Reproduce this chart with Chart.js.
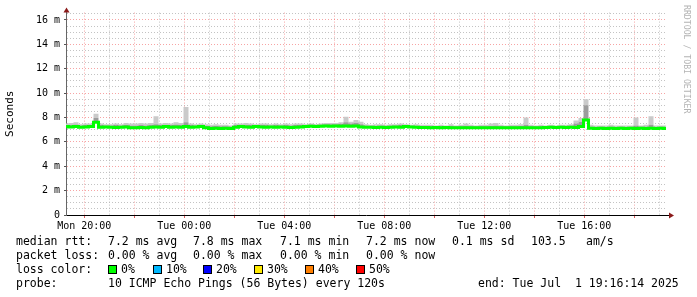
<!DOCTYPE html>
<html lang="en">
<head>
<meta charset="UTF-8">
<style>
    body { margin: 0; background: #ffffff; }
    .wrap { position: relative; width: 697px; height: 297px; font-family: "DejaVu Sans Mono", monospace; color: #000; overflow: hidden; }
    canvas { position: absolute; left: 0; top: 0; }
    .t { position: absolute; font-size: 11.5px; line-height: 14px; white-space: pre; }
    .box { position: absolute; width: 7px; height: 7px; border: 1px solid #000; }
    .mark { position: absolute; left: 682px; top: 5px; font-size: 8.2px; color: #b4b4b4; writing-mode: vertical-rl; white-space: pre; }
</style>
<script src="https://cdn.jsdelivr.net/npm/chart.js"></script>
</head>
<body>
<div class="wrap">
    <canvas id="pingChart" width="697" height="297"></canvas>
    <div class="mark">RRDTOOL / TOBI OETIKER</div>

    <div class="t" style="left:16px;top:234px">median rtt:</div>
    <div class="t" style="left:108px;top:234px">7.2 ms avg</div>
    <div class="t" style="left:193px;top:234px">7.8 ms max</div>
    <div class="t" style="left:280px;top:234px">7.1 ms min</div>
    <div class="t" style="left:366px;top:234px">7.2 ms now</div>
    <div class="t" style="left:452px;top:234px">0.1 ms sd</div>
    <div class="t" style="left:531px;top:234px">103.5</div>
    <div class="t" style="left:586px;top:234px">am/s</div>

    <div class="t" style="left:16px;top:248px">packet loss:</div>
    <div class="t" style="left:108px;top:248px">0.00 % avg</div>
    <div class="t" style="left:193px;top:248px">0.00 % max</div>
    <div class="t" style="left:280px;top:248px">0.00 % min</div>
    <div class="t" style="left:366px;top:248px">0.00 % now</div>

    <div class="t" style="left:16px;top:262px">loss color:</div>
    <div id="lossRow"></div>

    <div class="t" style="left:16px;top:276px">probe:</div>
    <div class="t" style="left:108px;top:276px">10 ICMP Echo Pings (56 Bytes) every 120s</div>
    <div class="t" style="left:478px;top:276px">end: Tue Jul  1 19:16:14 2025</div>
</div>

<script>
// one sample every 12 minutes, Mon 19:16 -> Tue 19:16
const stepHours = 0.2;
const firstTickHour = 0.7294; // Mon 20:00 relative to start
const tickLabels = ['Mon 20:00', 'Tue 00:00', 'Tue 04:00', 'Tue 08:00', 'Tue 12:00', 'Tue 16:00'];

const medianRtt = [
    7.25, 7.22, 7.25, 7.20, 7.22, 7.25, 7.60, 7.20, 7.22, 7.20,
    7.18, 7.20, 7.22, 7.15, 7.15, 7.18, 7.15, 7.20, 7.22, 7.20,
    7.25, 7.20, 7.22, 7.20, 7.25, 7.20, 7.22, 7.25, 7.15, 7.10,
    7.12, 7.10, 7.12, 7.10, 7.20, 7.25, 7.22, 7.20, 7.25, 7.22,
    7.20, 7.22, 7.20, 7.22, 7.20, 7.18, 7.20, 7.22, 7.25, 7.28,
    7.25, 7.28, 7.30, 7.28, 7.30, 7.28, 7.30, 7.28, 7.30, 7.22,
    7.20, 7.20, 7.18, 7.20, 7.18, 7.20, 7.22, 7.20, 7.25, 7.22,
    7.20, 7.18, 7.18, 7.15, 7.18, 7.15, 7.18, 7.16, 7.15, 7.15,
    7.16, 7.15, 7.16, 7.15, 7.16, 7.15, 7.16, 7.15, 7.16, 7.15,
    7.16, 7.15, 7.15, 7.15, 7.16, 7.15, 7.18, 7.20, 7.18, 7.20,
    7.18, 7.20, 7.18, 7.25, 7.80, 7.12, 7.10, 7.12, 7.10, 7.12,
    7.10, 7.12, 7.10, 7.12, 7.10, 7.12, 7.10, 7.12, 7.10, 7.12,
    7.10
];

// darker smoke, close to the median
const smokeMid = [
    7.38, 7.40, 7.42, 7.35, 7.38, 7.38, 7.95, 7.38, 7.35, 7.35,
    7.38, 7.35, 7.40, 7.35, 7.35, 7.40, 7.35, 7.40, 7.45, 7.38,
    7.40, 7.38, 7.42, 7.40, 7.60, 7.38, 7.35, 7.38, 7.32, 7.28,
    7.30, 7.28, 7.28, 7.25, 7.38, 7.40, 7.40, 7.38, 7.35, 7.38,
    7.38, 7.35, 7.38, 7.35, 7.38, 7.35, 7.38, 7.38, 7.38, 7.42,
    7.40, 7.42, 7.45, 7.45, 7.45, 7.48, 7.60, 7.50, 7.55, 7.45,
    7.35, 7.32, 7.32, 7.35, 7.30, 7.35, 7.35, 7.38, 7.38, 7.32,
    7.32, 7.30, 7.30, 7.28, 7.28, 7.28, 7.28, 7.32, 7.28, 7.28,
    7.32, 7.28, 7.28, 7.28, 7.28, 7.32, 7.35, 7.28, 7.28, 7.28,
    7.28, 7.30, 7.40, 7.28, 7.28, 7.28, 7.30, 7.32, 7.30, 7.32,
    7.30, 7.35, 7.50, 7.65, 9.00, 7.25, 7.22, 7.25, 7.22, 7.25,
    7.22, 7.25, 7.22, 7.25, 7.35, 7.25, 7.25, 7.40, 7.22, 7.25,
    7.22
];

// light smoke, highest pings
const smokeTop = [
    7.50, 7.55, 7.60, 7.45, 7.50, 7.50, 8.30, 7.50, 7.45, 7.45,
    7.50, 7.45, 7.55, 7.50, 7.50, 7.55, 7.50, 7.55, 8.10, 7.50,
    7.55, 7.50, 7.60, 7.55, 8.85, 7.50, 7.45, 7.50, 7.45, 7.40,
    7.45, 7.40, 7.40, 7.35, 7.50, 7.50, 7.55, 7.50, 7.45, 7.50,
    7.50, 7.45, 7.50, 7.45, 7.50, 7.45, 7.50, 7.50, 7.45, 7.50,
    7.45, 7.50, 7.55, 7.55, 7.55, 7.60, 8.05, 7.65, 7.80, 7.65,
    7.45, 7.40, 7.45, 7.45, 7.40, 7.45, 7.45, 7.50, 7.45, 7.40,
    7.45, 7.40, 7.40, 7.40, 7.35, 7.40, 7.35, 7.45, 7.35, 7.40,
    7.50, 7.40, 7.35, 7.40, 7.40, 7.50, 7.55, 7.40, 7.35, 7.40,
    7.40, 7.45, 8.00, 7.40, 7.35, 7.40, 7.35, 7.40, 7.35, 7.40,
    7.40, 7.45, 7.75, 7.95, 9.50, 7.40, 7.35, 7.35, 7.35, 7.40,
    7.35, 7.35, 7.35, 7.35, 8.00, 7.35, 7.40, 8.10, 7.35, 7.35,
    7.35
];

const lossLabels = ['0%', '10%', '20%', '30%', '40%', '50%'];
const lossColors = ['#00ff00', '#00b8ff', '#0000ff', '#ffea00', '#ff7f00', '#ff0000'];
const lossX = [108, 153, 203, 254, 305, 356];

const lossRow = document.getElementById('lossRow');
lossLabels.forEach((lbl, i) => {
    const b = document.createElement('div');
    b.className = 'box';
    b.style.left = lossX[i] + 'px';
    b.style.top = '265px';
    b.style.background = lossColors[i];
    lossRow.appendChild(b);
    const t = document.createElement('div');
    t.className = 't';
    t.style.left = (lossX[i] + 13) + 'px';
    t.style.top = '262px';
    t.textContent = lbl;
    lossRow.appendChild(t);
});

const majorGrid = 'rgba(240, 90, 90, 0.55)';
const minorGrid = 'rgba(175, 175, 175, 0.75)';

const toPoints = arr => arr.map((v, i) => ({ x: i * stepHours, y: v }));

const yTicks = [];
for (let v = 0; v <= 16.5; v += 0.5) yTicks.push(v);
const xTicks = [];
for (let k = 0; k < 24; k++) xTicks.push(firstTickHour + k);

const axisArrows = {
    id: 'axisArrows',
    afterDraw(chart) {
        const { ctx, chartArea: a } = chart;
        ctx.save();
        ctx.strokeStyle = '#000';
        ctx.lineWidth = 1;
        const by = Math.round(a.bottom) + 0.5;
        ctx.beginPath();
        ctx.moveTo(a.right, by);
        ctx.lineTo(a.right + 4, by);
        ctx.stroke();
        ctx.fillStyle = '#8b1a1a';
        ctx.beginPath();
        ctx.moveTo(a.right + 3, by - 3);
        ctx.lineTo(a.right + 8, by);
        ctx.lineTo(a.right + 3, by + 3);
        ctx.closePath();
        ctx.fill();
        const lx = Math.round(a.left) + 0.5;
        ctx.beginPath();
        ctx.moveTo(lx - 3, a.top);
        ctx.lineTo(lx, a.top - 5);
        ctx.lineTo(lx + 3, a.top);
        ctx.closePath();
        ctx.fill();
        ctx.restore();
    }
};

Chart.defaults.font.family = '"DejaVu Sans Mono", monospace';
Chart.defaults.color = '#000';

const smokeStyle = {
    borderWidth: 0,
    borderColor: 'rgba(0,0,0,0)',
    pointRadius: 0,
    stepped: 'middle'
};

new Chart(document.getElementById('pingChart'), {
    type: 'line',
    data: {
        datasets: [
            {
                label: 'median rtt',
                data: toPoints(medianRtt),
                borderColor: '#00ff00',
                borderWidth: 3,
                pointRadius: 0,
                stepped: 'middle',
                fill: false,
                order: 0
            },
            Object.assign({
                label: 'smoke mid',
                data: toPoints(smokeMid),
                backgroundColor: '#9c9c9c',
                fill: { target: 0 },
                order: 1
            }, smokeStyle),
            Object.assign({
                label: 'smoke top',
                data: toPoints(smokeTop),
                backgroundColor: '#cacaca',
                fill: { target: 1 },
                order: 2
            }, smokeStyle)
        ]
    },
    options: {
        responsive: false,
        animation: false,
        devicePixelRatio: 1,
        layout: { padding: { top: 12.6, right: 31, bottom: 65, left: 0 } },
        plugins: { legend: { display: false }, tooltip: { enabled: false } },
        scales: {
            x: {
                type: 'linear',
                min: 0,
                max: 24,
                afterBuildTicks: scale => { scale.ticks = xTicks.map(v => ({ value: v })); },
                afterFit: scale => { scale.height = 17; },
                ticks: {
                    autoSkip: false,
                    maxRotation: 0,
                    padding: 2,
                    font: { size: 10 },
                    callback: (v, i) => (i % 4 === 0 ? tickLabels[i / 4] : '')
                },
                grid: {
                    color: c => (c.index % 2 === 0 ? majorGrid : minorGrid),
                    tickColor: c => (c.index % 2 === 0 ? '#e06060' : 'rgba(0,0,0,0)'),
                    tickLength: 3
                },
                border: { display: true, color: '#000', width: 1, dash: [1, 2] }
            },
            y: {
                min: 0,
                max: 16.6,
                afterBuildTicks: scale => { scale.ticks = yTicks.map(v => ({ value: v })); },
                afterFit: scale => { scale.width = 66; },
                ticks: {
                    autoSkip: false,
                    padding: 4,
                    font: { size: 10 },
                    callback: v => (v % 2 === 0 ? (v === 0 ? '0' : v + ' m') : '')
                },
                grid: {
                    color: c => (c.tick && c.tick.value % 2 === 0 ? majorGrid : minorGrid),
                    tickColor: c => (c.tick && c.tick.value % 2 === 0 ? '#555' : 'rgba(0,0,0,0)'),
                    tickLength: 2
                },
                border: { display: true, color: '#666', width: 1, dash: [1, 2] },
                title: {
                    display: true,
                    text: 'Seconds',
                    font: { size: 11 },
                    padding: { top: 4, bottom: 0 }
                }
            }
        }
    },
    plugins: [axisArrows]
});
</script>
</body>
</html>
